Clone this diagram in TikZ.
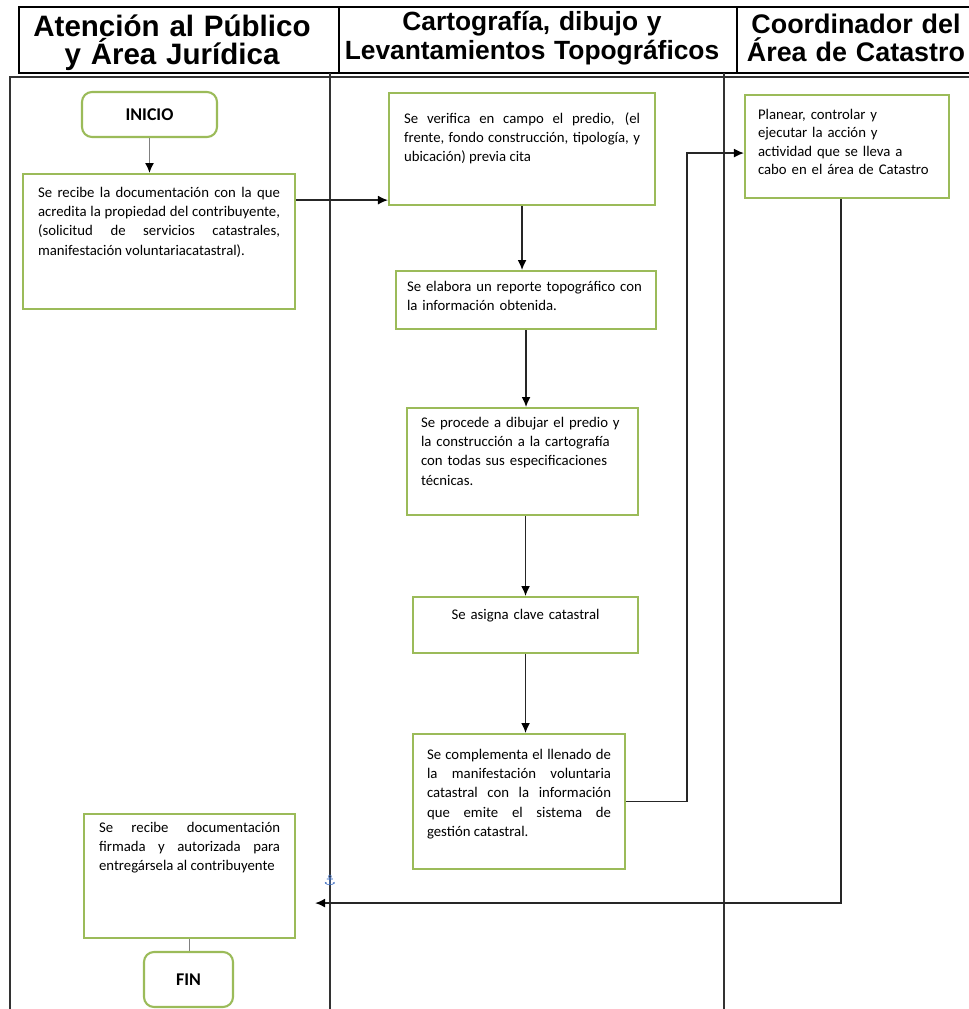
\documentclass[tikz,border=0pt]{standalone}
\usepackage{fontspec}
\setmainfont{Carlito}
\newfontfamily\headFont{Liberation Sans}
\newfontfamily\symbolFont{DejaVu Sans}
\usetikzlibrary{arrows.meta}
\definecolor{flowGreen}{RGB}{155,187,89}
\definecolor{anchorBlue}{RGB}{68,114,196}
\tolerance=10000
\hyphenpenalty=10000
\begin{document}
\begin{tikzpicture}[
    laneHead/.style={anchor=base,inner sep=0pt,align=center,font=\headFont\bfseries\fontsize{#1}{8.2}\selectfont},
    flowStep/.style={rectangle,draw=flowGreen,line width=0.6pt,anchor=north west,inner ysep=0pt,inner xsep=0.15cm,align=justify,font=\fontsize{4.2}{5.5}\selectfont},
    flowTerm/.style={rectangle,rounded corners=0.1cm,draw=flowGreen,line width=0.6pt,inner sep=0pt,font=\bfseries\fontsize{5.1}{6}\selectfont},
    flowArrow/.style={-{Latex[length=0.1cm,width=0.09cm,color=black]},line width=0.45pt,draw=black!85},
    flowLink/.style={line width=0.45pt,draw=gray},
    laneLine/.style={line width=0.45pt,draw=black!80},
    headLine/.style={line width=0.8pt},
]
\useasboundingbox (0,0) rectangle (9.69,-10.09);
% encabezado
\draw[headLine] (0.19,-0.07) rectangle (9.80,-0.73);
\draw[headLine] (3.39,-0.07) -- (3.39,-0.73);
\draw[headLine] (7.37,-0.07) -- (7.37,-0.73);
\node[laneHead=8.4,text width=3.1cm] (headPublico) at (1.72,-0.36) {Atención al Público\\y Área Jurídica};
\node[laneHead=7.5,text width=3.9cm] (headCarto) at (5.32,-0.305) {Cartografía, dibujo y\\Levantamientos Topográficos};
\node[laneHead=7.65,text width=2.3cm] (headCoord) at (8.56,-0.33) {Coordinador del\\Área de Catastro};
% carriles
\draw[laneLine] (0.10,-10.20) |- (9.80,-0.77);
\draw[laneLine] (3.30,-0.73) -- (3.30,-10.20);
\draw[laneLine] (7.24,-0.73) -- (7.24,-10.20);
\node[flowTerm,minimum width=1.35cm,minimum height=0.45cm] (inicio) at (1.495,-1.145) {INICIO};
\node[flowStep,text width=2.42cm,text height=0.23cm,text depth=1.12cm] (recibe) at (0.22,-1.73) {Se recibe la documentación con la que\linebreak acredita la propiedad del contribuyente,\linebreak (solicitud de servicios catastrales,\linebreak manifestación voluntariacatastral).};
\node[flowStep,text width=2.36cm,text height=0.30cm,text depth=0.82cm] (verifica) at (3.88,-0.92) {Se verifica en campo el predio, (el\linebreak frente, fondo construcción, tipología, y\linebreak ubicación) previa cita};
\node[flowStep,text width=2.38cm,inner xsep=0.11cm,text height=0.20cm,text depth=0.38cm,align=left] (reporte) at (3.95,-2.70) {Se elabora un reporte topográfico con\\la información obtenida.};
\node[flowStep,text width=2.03cm,inner xsep=0.14cm,text height=0.19cm,text depth=0.88cm,align=left] (dibujar) at (4.06,-4.07) {Se procede a dibujar el predio y\\la construcción a la cartografía\\con todas sus especificaciones\\técnicas.};
\node[flowStep,text width=1.97cm,inner xsep=0.14cm,text height=0.22cm,text depth=0.34cm,align=center] (asigna) at (4.12,-5.96) {Se asigna clave catastral};
\node[flowStep,text width=1.84cm,inner xsep=0.14cm,text height=0.25cm,text depth=1.10cm] (complementa) at (4.12,-7.33) {Se complementa el llenado de\linebreak la manifestación voluntaria\linebreak catastral con la información\linebreak que emite el sistema de\linebreak gestión catastral.};
\node[flowStep,text width=1.78cm,inner xsep=0.13cm,text height=0.24cm,text depth=0.79cm,align=left,font=\fontsize{4.2}{5.3}\selectfont] (planear) at (7.44,-0.94) {Planear, controlar y\\ejecutar la acción y\\actividad que se lleva a\\cabo en el área de Catastro};
\node[flowStep,text width=1.81cm,text height=0.18cm,text depth=1.06cm] (entrega) at (0.83,-8.13) {Se recibe documentación\linebreak firmada y autorizada para\linebreak entregársela al contribuyente};
\node[flowTerm,minimum width=0.89cm,minimum height=0.55cm] (fin) at (1.885,-9.795) {FIN};
\node[text=anchorBlue,inner sep=0pt,font=\symbolFont\fontsize{4}{4}\selectfont] (anchorMark) at (3.30,-8.80) {⚓};
% conectores
\coordinate (toVerifica) at ([yshift=0.06cm]verifica.south west);
\coordinate (toPlanear) at ([yshift=-0.065cm]planear.west);
\coordinate (fromPlanear) at ([xshift=-0.06cm]planear.south);
\coordinate (toEntrega) at ([xshift=0.19cm,yshift=-0.27cm]entrega.east);
\draw[flowArrow,draw=gray] (inicio.south) -- (inicio.south |- recibe.north);
\draw[flowArrow] (recibe.east |- toVerifica) -- (toVerifica);
\draw[flowArrow] (verifica.south) -- (verifica.south |- reporte.north);
\draw[flowArrow] (reporte.south) -- (reporte.south |- dibujar.north);
\draw[flowArrow] (asigna.north |- dibujar.south) -- (asigna.north);
\draw[flowArrow] (asigna.south) -- (asigna.south |- complementa.north);
\draw[flowArrow] (complementa.east) -- ++(0.61,0) |- (toPlanear);
\draw[flowArrow] (fromPlanear) |- (toEntrega);
\draw[flowLink] (entrega.south) -- (entrega.south |- fin.north);
\end{tikzpicture}
\end{document}
